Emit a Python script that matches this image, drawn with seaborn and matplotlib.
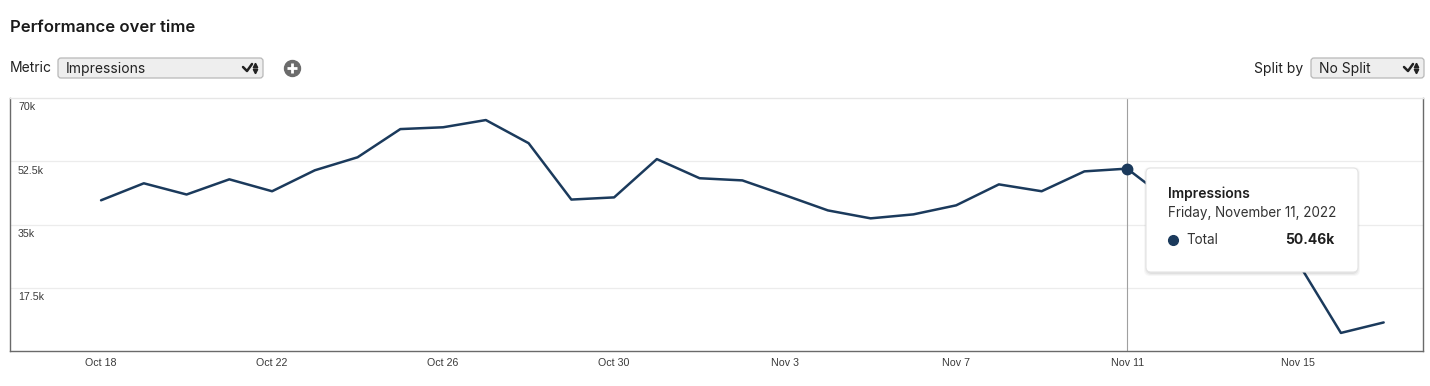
import matplotlib
matplotlib.use("Agg")
import matplotlib.pyplot as plt
import seaborn as sns
import pandas as pd
from matplotlib.patches import FancyBboxPatch
from matplotlib.lines import Line2D
from matplotlib.transforms import Affine2D, blended_transform_factory, offset_copy

# ---------------- data ----------------
dates = ["Oct 18", "Oct 19", "Oct 20", "Oct 21", "Oct 22", "Oct 23", "Oct 24",
         "Oct 25", "Oct 26", "Oct 27", "Oct 28", "Oct 29", "Oct 30", "Oct 31",
         "Nov 1", "Nov 2", "Nov 3", "Nov 4", "Nov 5", "Nov 6", "Nov 7",
         "Nov 8", "Nov 9", "Nov 10", "Nov 11", "Nov 12", "Nov 13", "Nov 14",
         "Nov 15", "Nov 16", "Nov 17"]
impressions = [41700, 46400, 43300, 47500, 44200, 50000, 53600,
               61400, 61900, 63900, 57500, 41900, 42500, 53100,
               47800, 47200, 43100, 38900, 36700, 37800, 40300,
               46100, 44200, 49700, 50460, 41400, 37000, 32000,
               24400, 5000, 7900]
x_tick_labels = ["Oct 18", "Oct 22", "Oct 26", "Oct 30", "Nov 3", "Nov 7", "Nov 11", "Nov 15"]
y_ticks = [17500, 35000, 52500, 70000]
y_tick_labels = ["17.5k", "35k", "52.5k", "70k"]
highlight_date = "Nov 11"
highlight_full = "Friday, November 11, 2022"
metric_name = "Impressions"
series_name = "Total"
split_name = "No Split"
title_text = "Performance over time"

df = pd.DataFrame({"day": range(len(dates)), "date": dates, "impressions": impressions})

# ---------------- style ----------------
sns.set_theme(style="white")
plt.rcParams["font.family"] = ["Liberation Sans", "DejaVu Sans"]

W, H = 1430, 386
fig = plt.figure(figsize=(W / 100, H / 100), dpi=100)
fig.patch.set_facecolor("white")
# pixel transform (top-left origin)
PX = Affine2D().scale(1 / 100, -1 / 100).translate(0, H / 100) + fig.dpi_scale_trans

ax = fig.add_axes([10 / W, (H - 351) / H, 1413 / W, (351 - 98) / H])
ax.set_facecolor("white")

line_color = "#1b3a5c"
sns.lineplot(data=df, x="day", y="impressions", ax=ax, color=line_color,
             linewidth=1.8, zorder=3)

ax.set_xlim(-2.13, 30.92)
ax.set_ylim(0, 70000)

# grid
for yt in y_ticks[:-1]:
    ax.axhline(yt, color="#ececec", linewidth=0.9, zorder=1)

# y labels inside the plot
ytrans = offset_copy(blended_transform_factory(ax.transAxes, ax.transData), fig=fig, x=0, y=-4.5, units="dots")
for yt, lab in zip(y_ticks, y_tick_labels):
    ax.text(8 / 1413, yt, lab, transform=ytrans, ha="left", va="top",
            fontsize=7.7, color="#3a3a3a")
ax.set_yticks([])

# x ticks
ax.set_xticks([dates.index(l) for l in x_tick_labels])
ax.set_xticklabels(x_tick_labels, fontsize=7.7, color="#3a3a3a")
ax.tick_params(axis="x", length=0, pad=5)
ax.set_xlabel("")
ax.set_ylabel("")

# spines
for s in ["left", "bottom", "right"]:
    ax.spines[s].set_color("#6a6a6a")
    ax.spines[s].set_linewidth(1.0)
ax.spines["top"].set_color("#e6e6e6")
ax.spines["top"].set_linewidth(1.0)

# highlight
hi = dates.index(highlight_date)
hv = impressions[hi]
ax.axvline(hi, color="#a0a0a0", linewidth=0.8, zorder=2)
ax.plot([hi], [hv], marker="o", markersize=7.5, color=line_color, zorder=5)

# ---------------- tooltip ----------------
tx0, ty0, tx1, ty1 = 1146, 168, 1358, 272
for i, a in enumerate([0.03, 0.04, 0.05]):
    d = 3 - i
    fig.add_artist(FancyBboxPatch((tx0 - d + 1, ty0 - d + 2), (tx1 - tx0) + 2 * d - 2, (ty1 - ty0) + 2 * d - 1,
                                  boxstyle="round,pad=0,rounding_size=6", transform=PX,
                                  facecolor="black", edgecolor="none", alpha=a, zorder=8))
fig.add_artist(FancyBboxPatch((tx0, ty0), tx1 - tx0, ty1 - ty0,
                              boxstyle="round,pad=0,rounding_size=5", transform=PX,
                              facecolor="white", edgecolor="#e4e4e4", linewidth=0.8, zorder=9))
tfam = ["Inter", "DejaVu Sans"]
fig.text(1168, 194, metric_name, transform=PX, ha="left", va="center", fontsize=10,
         fontweight="semibold", color="#1f1f1f", family=tfam, zorder=10)
fig.text(1168, 213, highlight_full, transform=PX, ha="left", va="center", fontsize=9.7,
         color="#333333", family=tfam, zorder=10)
fig.add_artist(Line2D([1173], [240], transform=PX, marker="o", markersize=7,
                      color=line_color, zorder=10))
fig.text(1186, 240, series_name, transform=PX, ha="left", va="center", fontsize=9.7,
         color="#333333", family=tfam, zorder=10)
fig.text(1334, 240, f"{hv / 1000:.2f}k", transform=PX, ha="right", va="center", fontsize=10,
         fontweight="bold", color="#1f1f1f", family=tfam, zorder=10)

# ---------------- header ----------------
fig.text(10, 27, title_text, transform=PX, ha="left", va="center", fontsize=12,
         fontweight="semibold", color="#1a1a1a", family=tfam)


def dropdown(x0, x1, label):
    fig.add_artist(FancyBboxPatch((x0, 58), x1 - x0, 20, boxstyle="round,pad=0,rounding_size=3",
                                  transform=PX, facecolor="#eeeeee", edgecolor="#b8b8b8",
                                  linewidth=0.9))
    fig.text(x0 + 8, 68.5, label, transform=PX, ha="left", va="center", fontsize=10,
             color="#222222", family=tfam)
    cx = x1 - 20
    fig.add_artist(Line2D([cx, cx + 4, cx + 9], [67, 71, 64], transform=PX, color="#222222",
                          linewidth=1.8, solid_capstyle="round"))
    fig.add_artist(Line2D([cx + 12], [65], transform=PX, marker="^", markersize=3.2,
                          color="#222222", linestyle="none"))
    fig.add_artist(Line2D([cx + 12], [71], transform=PX, marker="v", markersize=3.2,
                          color="#222222", linestyle="none"))


fig.text(10, 68.5, "Metric", transform=PX, ha="left", va="center", fontsize=10,
         color="#222222", family=tfam)
dropdown(58, 263, metric_name)
fig.add_artist(Line2D([292], [68], transform=PX, marker="o", markersize=11.5,
                      color="#6b6b6b", linestyle="none"))
fig.add_artist(Line2D([292], [68], transform=PX, marker="+", markersize=6.5, markeredgewidth=2,
                      color="white", linestyle="none"))

fig.text(1303, 68.5, "Split by", transform=PX, ha="right", va="center", fontsize=10,
         color="#222222", family=tfam)
dropdown(1311, 1424, split_name)

fig.savefig("out.png", dpi=100, facecolor="white")
